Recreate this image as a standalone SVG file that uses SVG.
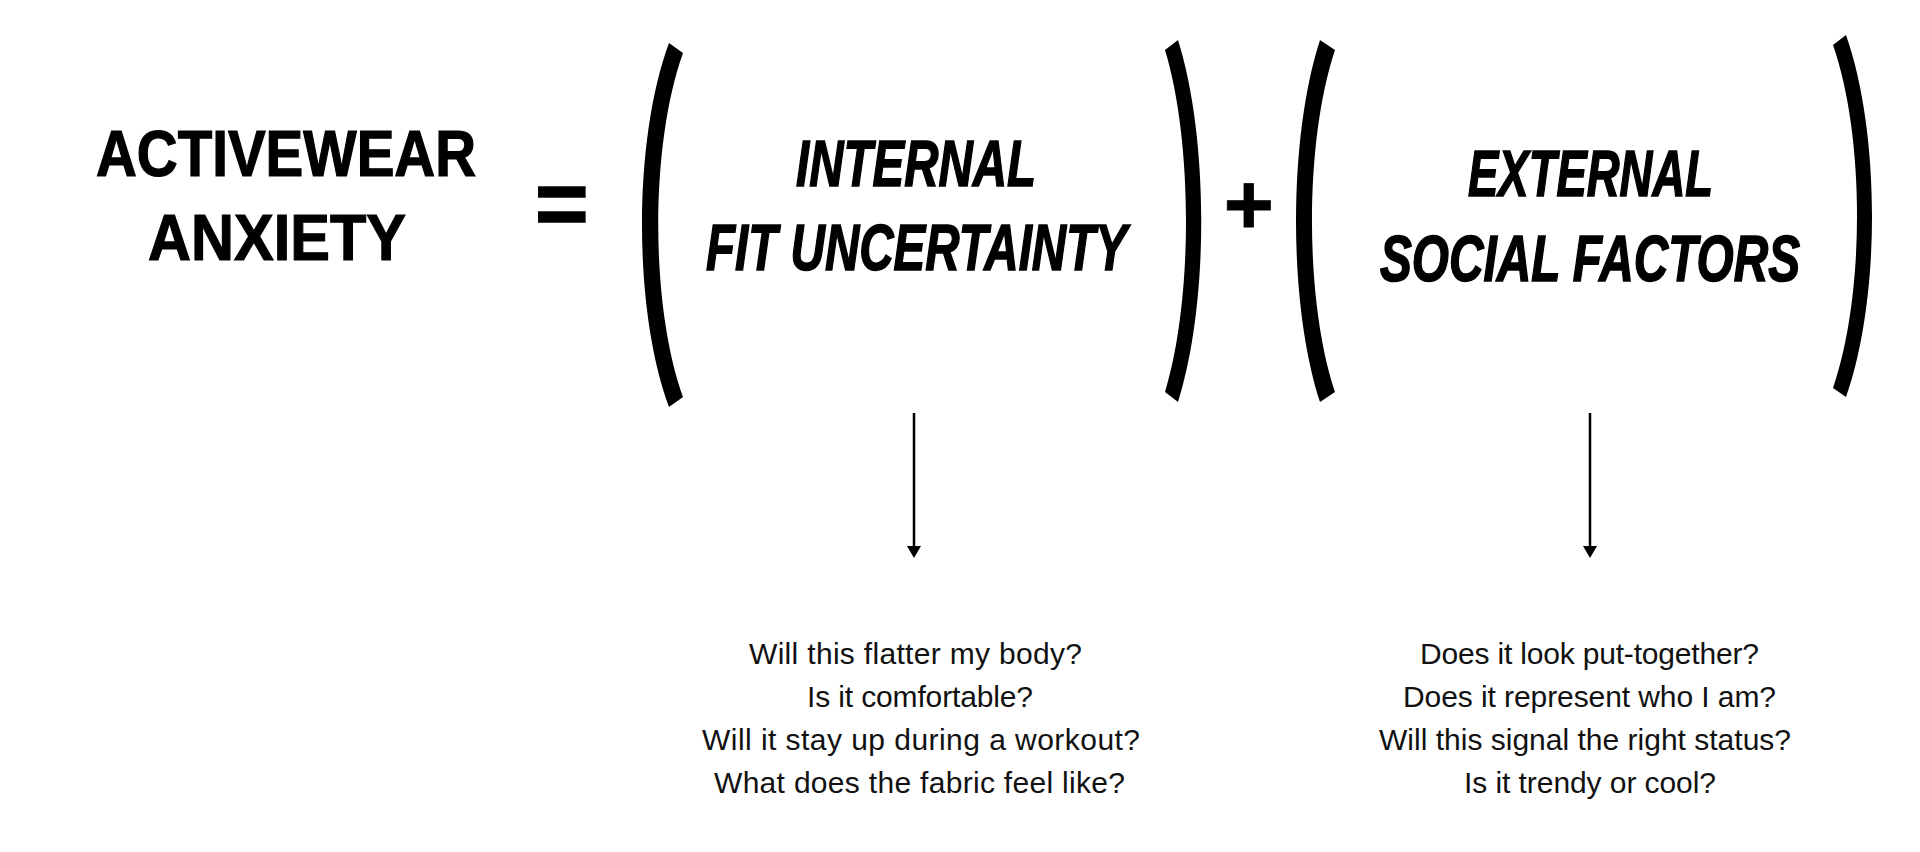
<svg xmlns="http://www.w3.org/2000/svg" width="1920" height="852" viewBox="0 0 1920 852">
<defs>
<style>
.title{font-family:"Liberation Sans",Arial,sans-serif;font-weight:bold;fill:#000;stroke:#000;stroke-width:1.1px}
.ital{font-style:italic}
.op{font-family:"Liberation Sans",Arial,sans-serif;font-weight:bold;font-style:italic;fill:#000;stroke:#000;text-anchor:middle}
.q{font-family:"Liberation Sans",Arial,sans-serif;font-size:30px;fill:#111}
.paren{fill:#000}
.conn{stroke:#000;stroke-width:2.5;fill:none}
.head{fill:#000}
</style>
</defs>
<rect width="1920" height="852" fill="#fff"/>

<g id="node-anxiety">
<text class="title" transform="translate(96,176) scale(1,1.133)" x="0" y="0" font-size="56.5" textLength="380" lengthAdjust="spacingAndGlyphs">ACTIVEWEAR</text>
<text class="title" transform="translate(148,260) scale(1,1.076)" x="0" y="0" font-size="59.5" textLength="258" lengthAdjust="spacingAndGlyphs">ANXIETY</text>
</g>

<g id="node-equals">
<text class="op" x="560" y="235" font-size="92" stroke-width="1.5">=</text>
</g>

<g id="node-internal">
<path class="paren" d="M669,43 C633,140 633,310 669,407 L683,397 C650,305 650,145 683,53 Z"/>
<text class="title ital" transform="translate(796,186) scale(1,1.37)" x="0" y="0" font-size="47.5" textLength="240" lengthAdjust="spacingAndGlyphs">INTERNAL</text>
<text class="title ital" transform="translate(706,270) scale(1,1.397)" x="0" y="0" font-size="46.5" textLength="421" lengthAdjust="spacingAndGlyphs">FIT UNCERTAINTY</text>
<path class="paren" d="M1178,40 C1209,138 1209,304 1178,402 L1165,392 C1193,300 1193,142 1165,50 Z"/>
</g>

<g id="node-plus">
<text class="op" x="1247" y="234" font-size="86" stroke-width="0.8">+</text>
</g>

<g id="node-external">
<path class="paren" d="M1320,40 C1288,138 1288,304 1320,402 L1335,392 C1304.3,300 1304.3,142 1335,50 Z"/>
<text class="title ital" transform="translate(1468,196) scale(1,1.43)" x="0" y="0" font-size="45.5" textLength="245" lengthAdjust="spacingAndGlyphs">EXTERNAL</text>
<text class="title ital" transform="translate(1380,281) scale(1,1.44)" x="0" y="0" font-size="45.2" textLength="420" lengthAdjust="spacingAndGlyphs">SOCIAL FACTORS</text>
<path class="paren" d="M1846,35 C1880.7,133 1880.7,299 1846,397 L1833,388 C1865,295 1865,137 1833,45 Z"/>
</g>

<g id="connectors">
<line class="conn" x1="914" y1="413" x2="914" y2="547"/>
<path class="head" d="M907,546 L921,546 L914,558 Z"/>
<line class="conn" x1="1590" y1="413" x2="1590" y2="547"/>
<path class="head" d="M1583,546 L1597,546 L1590,558 Z"/>
</g>

<g id="node-internal-questions">
<text class="q" x="749" y="664" textLength="333">Will this flatter my body?</text>
<text class="q" x="807" y="707" textLength="226">Is it comfortable?</text>
<text class="q" x="702" y="750" textLength="438">Will it stay up during a workout?</text>
<text class="q" x="714" y="793" textLength="411">What does the fabric feel like?</text>
</g>

<g id="node-external-questions">
<text class="q" x="1420" y="664" textLength="339">Does it look put-together?</text>
<text class="q" x="1403" y="707" textLength="373">Does it represent who I am?</text>
<text class="q" x="1379" y="750" textLength="412">Will this signal the right status?</text>
<text class="q" x="1464" y="793" textLength="252">Is it trendy or cool?</text>
</g>
</svg>
